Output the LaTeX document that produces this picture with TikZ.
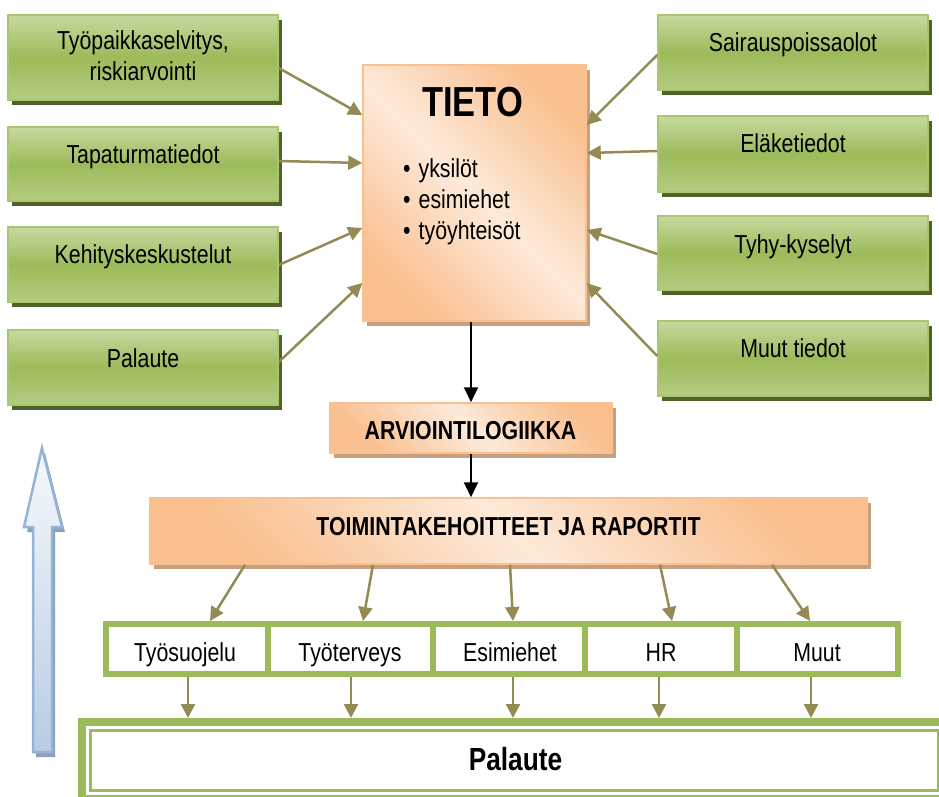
\documentclass[tikz,border=0pt]{standalone}
\usepackage{fontspec}
\setmainfont{Liberation Sans}[FakeStretch=0.82]
\usetikzlibrary{arrows.meta,shadows,calc}
\definecolor{gTop}{HTML}{C6D9A0}
\definecolor{gMid}{HTML}{9CBB59}
\definecolor{gBot}{HTML}{B4CC82}
\definecolor{gBorder}{HTML}{AAC66F}
\definecolor{gShadow}{HTML}{4F6228}
\definecolor{gLine}{HTML}{9BBB59}
\definecolor{oDark}{HTML}{FAC090}
\definecolor{oLight}{HTML}{FDEADA}
\definecolor{oBorder}{HTML}{FAC090}
\definecolor{oShadow}{HTML}{C6A080}
\definecolor{olv}{HTML}{948A54}
\definecolor{bTop}{HTML}{F6F9FC}
\definecolor{bBot}{HTML}{B7CCE4}
\definecolor{bBorder}{HTML}{95B3D7}
\definecolor{bShadow}{HTML}{8EA1BA}
\tikzset{
  gbox/.style={draw=gBorder, line width=1.5pt, top color=gTop, bottom color=gBot, middle color=gMid,
    minimum width=270pt, inner sep=0pt,
    general shadow={fill=gShadow, shadow xshift=4pt, shadow yshift=-5pt}},
  obox/.style={draw=oBorder, line width=1.5pt, top color=oDark, bottom color=oDark, middle color=oLight,
    shading angle=-45, inner sep=0pt,
    general shadow={fill=oShadow, shadow xshift=4pt, shadow yshift=-5pt}},
  sbox/.style={draw=gLine, line width=6pt, fill=white, minimum height=50pt, inner sep=0pt},
  pbox/.style={draw=gLine, line width=8pt, fill=white, inner sep=0pt},
  txt/.style={font=\fontsize{26}{31}\selectfont, inner sep=0pt},
  tb/.style={font=\fontsize{26}{31}\selectfont\bfseries, inner sep=0pt},
  oarr/.style={draw=olv, line width=2.5pt, -{Triangle[length=14pt,width=14pt]}},
  barr/.style={draw=black, line width=2pt, -{Triangle[length=15pt,width=14pt]}}
}
\begin{document}
\begin{tikzpicture}[x=1pt,y=-1pt]
\useasboundingbox (0,0) rectangle (939,797);
\begin{scope}
\clip (0,0) rectangle (939,797);
% blue arrow
\fill[bShadow] (45,453) -- (65,532) -- (55,532) -- (55,757) -- (36,757) -- (36,532) -- (27,532) -- cycle;
\shade[top color=bTop, bottom color=bBot, draw=bBorder, line width=2.5pt, line join=miter]
  (42,448) -- (62,527) -- (52,527) -- (52,752) -- (33,752) -- (33,527) -- (24,527) -- cycle;
% left boxes
\node[gbox, minimum height=85pt] (L1) at (143,57.5) {};
\node[gbox, minimum height=74pt] (L2) at (143,164) {};
\node[gbox, minimum height=75pt] (L3) at (143,264.5) {};
\node[gbox, minimum height=75pt] (L4) at (143,367.5) {};
% right boxes
\node[gbox, minimum height=75pt] (R1) at (793,52.5) {};
\node[gbox, minimum height=76pt] (R2) at (793,154) {};
\node[gbox, minimum height=74pt] (R3) at (793,253) {};
\node[gbox, minimum height=75pt] (R4) at (793,358.5) {};
% texts
\node[txt, align=center] (tL1) at (143,56) {Työpaikkaselvitys,\\riskiarvointi};
\node[txt, anchor=base] (tL2) at (143,163) {Tapaturmatiedot};
\node[txt, anchor=base] (tL3) at (143,263) {Kehityskeskustelut};
\node[txt, anchor=base] (tL4) at (143,367) {Palaute};
\node[txt, anchor=base] (tR1) at (793,52) {Sairauspoissaolot};
\node[txt, anchor=base] (tR2) at (793,153) {Eläketiedot};
\node[txt, anchor=base] (tR3) at (793,253) {Tyhy-kyselyt};
\node[txt, anchor=base] (tR4) at (793,357) {Muut tiedot};
% TIETO
\node[obox, minimum width=223pt, minimum height=256pt] (T) at (474.5,193) {};
\node[font=\fontsize{42}{48}\selectfont\bfseries, anchor=base, inner sep=0pt] (tT) at (472.5,117) {TIETO};
\node[txt, anchor=north west, align=left] (tB) at (403,158) {•\hspace{8pt}yksilöt\\•\hspace{8pt}esimiehet\\•\hspace{8pt}työyhteisöt};
% ARVIO
\node[obox, minimum width=282pt, minimum height=50pt] (A) at (471,428) {};
\node[tb, anchor=base] (tA) at (470.5,439) {ARVIOINTILOGIIKKA};
% TOIMINTA
\node[obox, minimum width=717pt, minimum height=66pt] (M) at (508.5,531) {};
\node[tb, anchor=base] (tM) at (508.5,535) {TOIMINTAKEHOITTEET JA RAPORTIT};
% small boxes
\node[sbox, minimum width=161.5pt] (S1) at (186.75,649) {};
\node[sbox, minimum width=165.5pt] (S2) at (350.25,649) {};
\node[sbox, minimum width=152pt] (S3) at (509,649) {};
\node[sbox, minimum width=151.5pt] (S4) at (660.75,649) {};
\node[sbox, minimum width=161.5pt] (S5) at (817.25,649) {};
\node[txt, anchor=base] (tS1) at (185,661) {Työsuojelu};
\node[txt, anchor=base] (tS2) at (350,661) {Työterveys};
\node[txt, anchor=base] (tS3) at (510,661) {Esimiehet};
\node[txt, anchor=base] (tS4) at (661,661) {HR};
\node[txt, anchor=base] (tS5) at (817,661) {Muut};
% Palaute box
\node[pbox, minimum width=865pt, minimum height=77pt] (P) at (514.5,760.5) {};
\draw[gLine, line width=3pt] ([shift={(12.5,12.5)}]P.north west) rectangle ([shift={(-12.5,-12.5)}]P.south east);
\node[font=\fontsize{32}{38}\selectfont\bfseries, anchor=base, inner sep=0pt] (tP) at (515.5,770) {Palaute};
% arrows into TIETO
\draw[oarr] ([yshift=-10.5pt]L1.east) -- ([yshift=78pt]T.west);
\draw[oarr] ([yshift=3pt]L2.east) -- ([yshift=30pt]T.west);
\draw[oarr] ([yshift=-0.5pt]L3.east) -- ([yshift=-35pt]T.west);
\draw[oarr] ([yshift=5.5pt]L4.east) -- ([yshift=-90pt]T.west);
\draw[oarr] ([yshift=-2.5pt]R1.west) -- ([yshift=68pt]T.east);
\draw[oarr] ([yshift=3pt]R2.west) -- ([yshift=40pt]T.east);
\draw[oarr] ([yshift=-1pt]R3.west) -- ([yshift=-37pt]T.east);
\draw[oarr] ([yshift=2.5pt]R4.west) -- ([yshift=-90pt]T.east);
% black arrows
\draw[barr] (A.north |- T.south) -- (A.north);
\draw[barr] (A.south) -- (A.south |- M.north);
% arrows to small boxes
\draw[oarr] ([xshift=-263.5pt]M.south) -- ([xshift=23.25pt]S1.north);
\draw[oarr] ([xshift=-135.5pt]M.south) -- ([xshift=12.75pt]S2.north);
\draw[oarr] ([xshift=1.5pt]M.south) -- ([xshift=4pt]S3.north);
\draw[oarr] ([xshift=151.5pt]M.south) -- ([xshift=11.25pt]S4.north);
\draw[oarr] ([xshift=263.5pt]M.south) -- ([xshift=-7.25pt]S5.north);
% arrows to Palaute
\draw[oarr] ([xshift=1.25pt]S1.south) -- ([xshift=1.25pt]S1.south |- P.north);
\draw[oarr] ([xshift=0.75pt]S2.south) -- ([xshift=0.75pt]S2.south |- P.north);
\draw[oarr] ([xshift=4pt]S3.south) -- ([xshift=4pt]S3.south |- P.north);
\draw[oarr] ([xshift=-1.75pt]S4.south) -- ([xshift=-1.75pt]S4.south |- P.north);
\draw[oarr] ([xshift=-6.25pt]S5.south) -- ([xshift=-6.25pt]S5.south |- P.north);
\end{scope}
\end{tikzpicture}
\end{document}
